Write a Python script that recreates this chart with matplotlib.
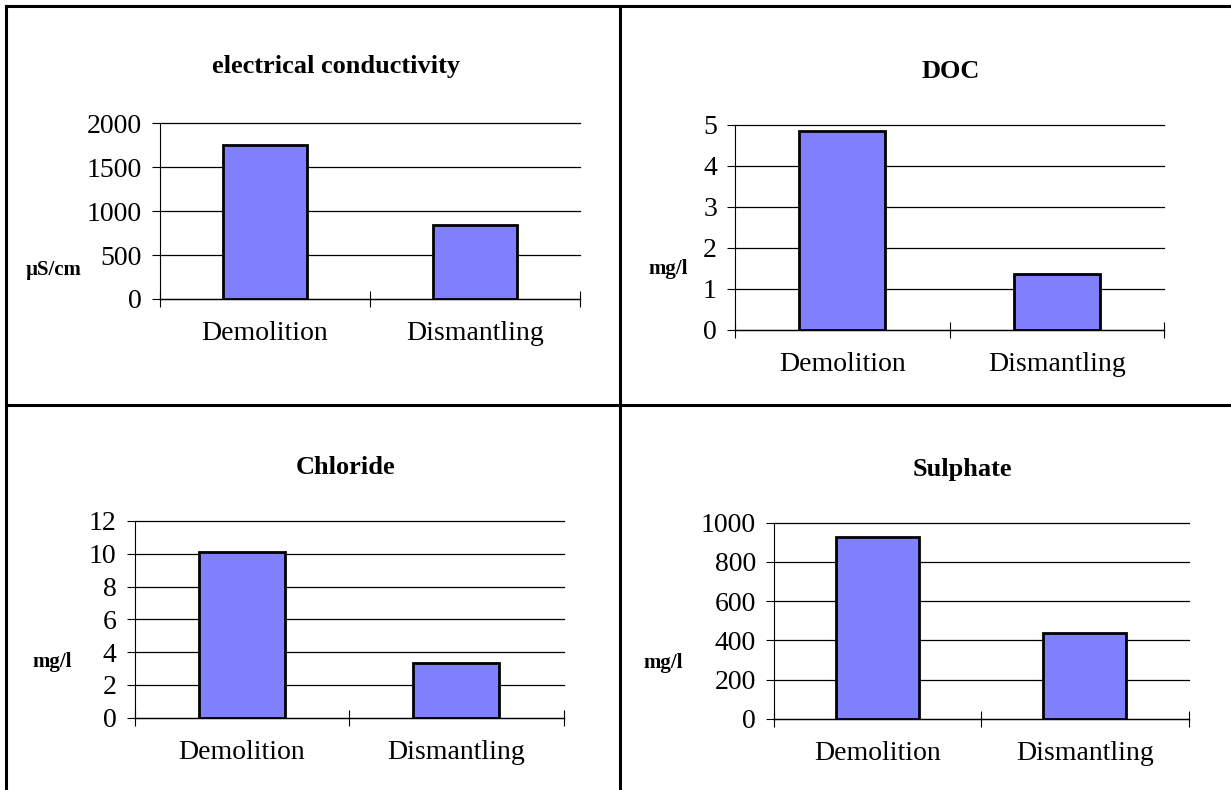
import numpy as np
import matplotlib
matplotlib.use("Agg")
import matplotlib.pyplot as plt
from matplotlib.lines import Line2D

plt.rcParams['font.family'] = ['Liberation Serif', 'DejaVu Serif']

# data
categories = ["Demolition", "Dismantling"]
conductivity = [1750, 840]
doc = [4.85, 1.36]
chloride = [10.1, 3.3]
sulphate = [925, 440]

titles = ["electrical conductivity", "DOC", "Chloride", "Sulphate"]
units = ["\u00b5S/cm", "mg/l", "mg/l", "mg/l"]
series = [conductivity, doc, chloride, sulphate]
y_max = [2000, 5, 12, 1000]
y_step = [500, 1, 2, 200]

W, H = 1231, 790
fig = plt.figure(figsize=(W / 100, H / 100), dpi=100)

# axes boxes in pixels: left, right, top, bottom
boxes = [(160, 580, 123.5, 299), (735, 1164, 125, 329.5),
         (134.5, 563.5, 521, 717.5), (774, 1188.5, 522.5, 719)]
title_pos = [(336, 66), (951, 71), (346, 467), (962, 469)]
unit_pos = [(54, 270), (668, 269), (52, 662), (663, 663)]


def px(x, y):
    return x / W, 1 - y / H


for i in range(4):
    l, r, t, b = boxes[i]
    ax = fig.add_axes([l / W, 1 - b / H, (r - l) / W, (b - t) / H])
    x = np.arange(len(categories))
    ax.bar(x, series[i], width=0.4, color="#8080FF", edgecolor="black",
           linewidth=2.0, zorder=3)
    ax.set_xlim(-0.5, 1.5)
    ax.set_ylim(0, y_max[i])
    ax.set_yticks(np.arange(0, y_max[i] + y_step[i] / 2, y_step[i]))
    ax.yaxis.grid(True, color="black", linewidth=0.9, zorder=0, clip_on=False)
    ax.set_axisbelow(True)
    for s in ["top", "right"]:
        ax.spines[s].set_visible(False)
    ax.spines["left"].set_linewidth(0.8)
    ax.spines["bottom"].set_linewidth(0.9)
    # ticks on category boundaries, labels in the middle
    ax.set_xticks([-0.5, 0.5, 1.5])
    ax.set_xticklabels([])
    ax.set_xticks(x, minor=True)
    ax.set_xticklabels(categories, minor=True, fontsize=20)
    ax.tick_params(axis="x", which="major", direction="inout", length=12, width=0.8)
    ax.tick_params(axis="x", which="minor", length=0, pad=16)
    ax.tick_params(axis="y", direction="out", length=6, width=0.8, labelsize=20, pad=7)

    tx, ty = px(*title_pos[i])
    fig.text(tx, ty, titles[i], fontsize=19, fontweight="bold", ha="center", va="center")
    ux, uy = px(*unit_pos[i])
    fig.text(ux, uy, units[i], fontsize=15, fontweight="bold", ha="center", va="center")

# table lines
lw = 2.2
for (x0, y0, x1, y1) in [(5.5, 5.5, W, 5.5), (5.5, 405, W, 405),
                         (5.5, 5.5, 5.5, H), (620, 5.5, 620, H)]:
    a, b_ = px(x0, y0)
    c, d = px(x1, y1)
    fig.add_artist(Line2D([a, c], [b_, d], color="black", linewidth=lw,
                          transform=fig.transFigure))

fig.savefig("out.png", dpi=100)
